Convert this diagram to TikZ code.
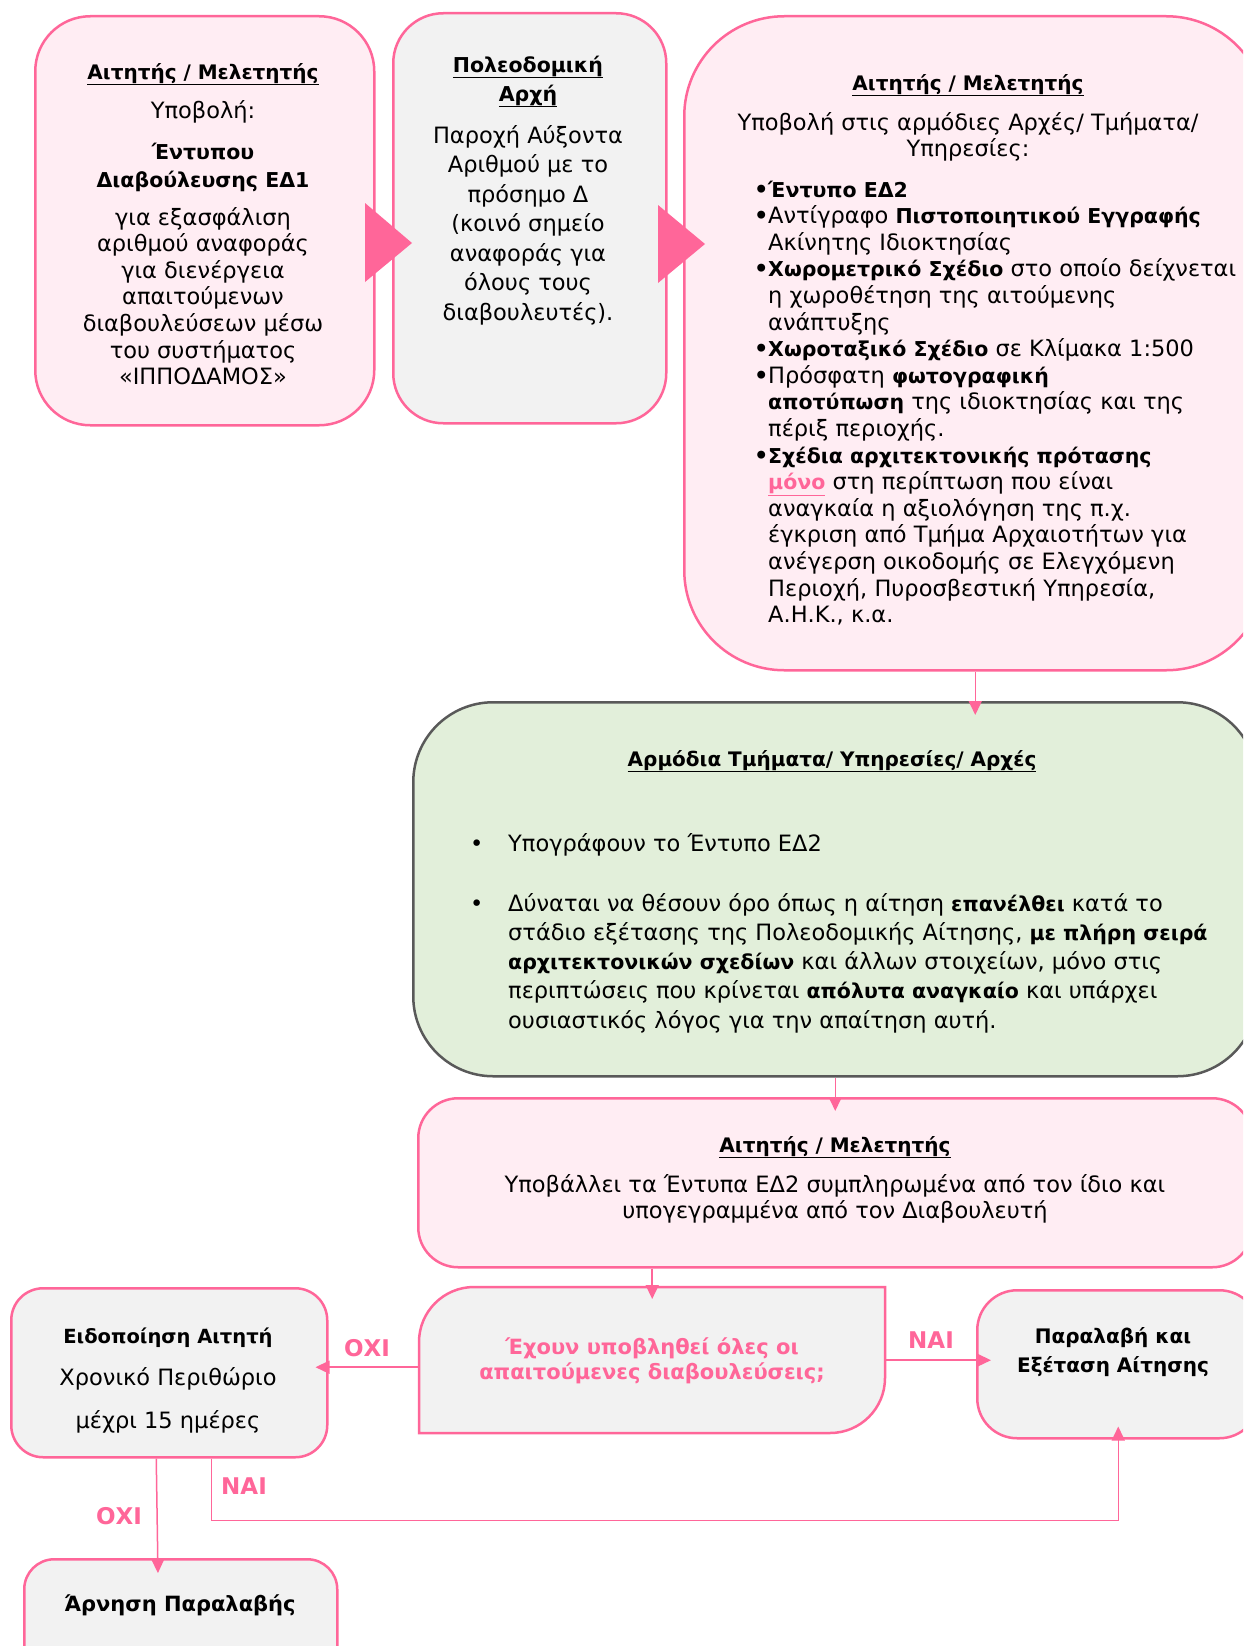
\documentclass[tikz,border=0pt]{standalone}
\usepackage{fontspec}
\setmainfont{DejaVu Sans}
\usetikzlibrary{arrows.meta,calc}
\definecolor{pinkline}{RGB}{255,102,153}
\definecolor{pinkfill}{RGB}{255,237,243}
\definecolor{greyfill}{RGB}{242,242,242}
\definecolor{greenfill}{RGB}{226,239,218}
\definecolor{greenline}{RGB}{89,89,89}
\tikzset{
  pinkbox/.style={draw=pinkline, fill=pinkfill, line width=2.5pt, inner sep=0pt, anchor=north west},
  greybox/.style={draw=pinkline, fill=greyfill, line width=2.5pt, inner sep=0pt, anchor=north west},
  greenbox/.style={draw=greenline, fill=greenfill, line width=2.5pt, inner sep=0pt, anchor=north west},
  conn/.style={draw=pinkline, line width=1.5pt, -{Triangle[length=14pt,width=13pt]}},
  lbl/.style={text=pinkline, font=\fontsize{23}{27}\selectfont\bfseries, inner sep=0pt},
  txt/.style={inner sep=0pt, align=center, anchor=base, font=\fontsize{22.5}{26.6}\selectfont},
  ttl/.style={inner sep=0pt, align=center, anchor=base, font=\fontsize{20}{26.6}\selectfont\bfseries},
  txtl/.style={inner sep=0pt, align=left, anchor=base west, font=\fontsize{22.5}{26.6}\selectfont},
}
\newcommand{\B}[1]{{\fontsize{20.5}{26.6}\selectfont\bfseries #1}}
\newcommand{\bul}{\makebox[14pt][l]{\bfseries •}}
\newcommand{\gbul}{\makebox[38pt][l]{•}}
\newcommand{\ind}{\hspace*{14pt}}
\begin{document}
\begin{tikzpicture}[x=1pt,y=-1pt]
\clip (0,0) rectangle (1243,1646);
\fill[white] (0,0) rectangle (1243,1646);
% boxes
\node[pinkbox, rounded corners=55pt, minimum width=339pt, minimum height=409pt] (b1) at (34,15) {};
\node[greybox, rounded corners=50pt, minimum width=273pt, minimum height=410pt] (b2) at (392,12) {};
\node[pinkbox, rounded corners=100pt, minimum width=582pt, minimum height=654pt] (b3) at (683,15) {};
\node[greenbox, rounded corners=80pt, minimum width=844pt, minimum height=374pt] (gr) at (412,701) {};
\node[pinkbox, rounded corners=40pt, minimum width=834pt, minimum height=169pt] (b4) at (417,1097) {};
\node[greybox, rounded corners=32pt, minimum width=316pt, minimum height=169pt] (lb) at (10,1287) {};
\node[greybox, rounded corners=40pt, minimum width=282pt, minimum height=148pt] (rb) at (976,1289) {};
\node[greybox, rounded corners=30pt, minimum width=313pt, minimum height=122pt] (bb) at (23,1558) {};
% decision shape
\filldraw[draw=pinkline, fill=greyfill, line width=2.5pt]
  (419,1433) -- (419,1342) .. controls (419,1311.6) and (443.6,1287) .. (474,1287)
  -- (885,1287) -- (885,1378) .. controls (885,1408.4) and (860.4,1433) .. (830,1433) -- cycle;
\node[inner sep=0pt, minimum width=466pt, minimum height=146pt, anchor=north west] (dec) at (419,1287) {};
% big arrows between top boxes
\fill[pinkline] (365,203) -- (412,243) -- (365,282) -- cycle;
\fill[pinkline] (658,205) -- (705,244) -- (658,283) -- cycle;
% box 1 text (multi-line nodes are anchored at their last baseline)
\node[ttl] (t1a) at (203,79) {\underline{Αιτητής / Μελετητής}};
\node[txt] (t1b) at (203,118) {Υποβολή:};
\node[txt, font=\fontsize{20.5}{28}\selectfont\bfseries] (t1c) at (203,187) {Έντυπου\\Διαβούλευσης ΕΔ1};
\node[txt] (t1d) at (203,384.6) {για εξασφάλιση\\αριθμού αναφοράς\\για διενέργεια\\απαιτούμενων\\διαβουλεύσεων μέσω\\του συστήματος\\«ΙΠΠΟΔΑΜΟΣ»};
% box 2 text
\node[txt, font=\fontsize{20.5}{29}\selectfont\bfseries] (t2a) at (528,101) {\underline{Πολεοδομική}\\\underline{Αρχή}};
\node[txt, font=\fontsize{22.5}{29.5}\selectfont] (t2b) at (528,320) {Παροχή Αύξοντα\\Αριθμού με το\\πρόσημο Δ\\(κοινό σημείο\\αναφοράς για\\όλους τους\\διαβουλευτές).};
% box 3 text
\node[ttl] (t3a) at (968,90) {\underline{Αιτητής / Μελετητής}};
\node[txt, font=\fontsize{22.5}{26}\selectfont] (t3b) at (968,156) {Υποβολή στις αρμόδιες Αρχές/ Τμήματα/\\Υπηρεσίες:};
\node[txtl] (t3c) at (754,622.6) {%
\bul\B{Έντυπο ΕΔ2}\\
\bul Αντίγραφο \B{Πιστοποιητικού Εγγραφής}\\
\ind Ακίνητης Ιδιοκτησίας\\
\bul\B{Χωρομετρικό Σχέδιο} στο οποίο δείχνεται\\
\ind η χωροθέτηση της αιτούμενης\\
\ind ανάπτυξης\\
\bul\B{Χωροταξικό Σχέδιο} σε Κλίμακα 1:500\\
\bul Πρόσφατη \B{φωτογραφική}\\
\ind\B{αποτύπωση} της ιδιοκτησίας και της\\
\ind πέριξ περιοχής.\\
\bul\B{Σχέδια αρχιτεκτονικής πρότασης}\\
\ind\textcolor{pinkline}{\B{\underline{μόνο}}} στη περίπτωση που είναι\\
\ind αναγκαία η αξιολόγηση της π.χ.\\
\ind έγκριση από Τμήμα Αρχαιοτήτων για\\
\ind ανέγερση οικοδομής σε Ελεγχόμενη\\
\ind Περιοχή, Πυροσβεστική Υπηρεσία,\\
\ind Α.Η.Κ., κ.α.};
% green text
\node[ttl] (tga) at (832,766) {\underline{Αρμόδια Τμήματα/ Υπηρεσίες/ Αρχές}};
\node[txtl] (tgb) at (470,851) {\gbul Υπογράφουν το Έντυπο ΕΔ2};
\node[txtl, font=\fontsize{22.5}{29.3}\selectfont] (tgc) at (470,1028.2) {%
\gbul Δύναται να θέσουν όρο όπως η αίτηση \B{επανέλθει} κατά το\\
\hspace*{38pt}στάδιο εξέτασης της Πολεοδομικής Αίτησης, \B{με πλήρη σειρά}\\
\hspace*{38pt}\B{αρχιτεκτονικών σχεδίων} και άλλων στοιχείων, μόνο στις\\
\hspace*{38pt}περιπτώσεις που κρίνεται \B{απόλυτα αναγκαίο} και υπάρχει\\
\hspace*{38pt}ουσιαστικός λόγος για την απαίτηση αυτή.};
% box 4 text
\node[ttl] (t4a) at (835,1152) {\underline{Αιτητής / Μελετητής}};
\node[txt, font=\fontsize{22.5}{26}\selectfont] (t4b) at (835,1218) {Υποβάλλει τα Έντυπα ΕΔ2 συμπληρωμένα από τον ίδιο και\\υπογεγραμμένα από τον Διαβουλευτή};
% decision text
\node[txt, text=pinkline, font=\fontsize{21}{25}\selectfont\bfseries] (tdec) at (652,1379) {Έχουν υποβληθεί όλες οι\\απαιτούμενες διαβουλεύσεις;};
% left box text
\node[txt, font=\fontsize{19.5}{26}\selectfont\bfseries] (tla) at (168,1343) {Ειδοποίηση Αιτητή};
\node[txt] (tlb) at (168,1385) {Χρονικό Περιθώριο};
\node[txt] (tlc) at (168,1428) {μέχρι 15 ημέρες};
% right box text
\node[txt, font=\fontsize{20}{29}\selectfont\bfseries] (tra) at (1113,1372) {Παραλαβή και\\Εξέταση Αίτησης};
% bottom box text
\node[txt, font=\fontsize{21}{26}\selectfont\bfseries] (tba) at (180,1611) {Άρνηση Παραλαβής};
% connectors
\draw[conn, shorten >=-14pt] (b3.south) -- (b3.south |- gr.north);
\draw[conn, shorten >=-14pt] (gr.south) -- (gr.south |- b4.north);
\draw[conn, shorten >=-12pt] (b4.south -| dec.north) -- (dec.north);
\draw[conn, shorten >=-13pt] ([yshift=-7pt]dec.west) -- ([yshift=-7pt]dec.west -| lb.east);
\draw[conn, shorten >=-15pt] (dec.east) -- (dec.east -| rb.west);
\draw[conn, shorten >=-15pt] ([xshift=-13pt]lb.south) -- ([xshift=-23pt]bb.north);
\draw[conn, shorten >=-13pt] ([xshift=42pt]lb.south) -- ++(0,62) -| (rb.south);
% labels
\node[lbl] (l1) at (367,1348) {ΟΧΙ};
\node[lbl] (l2) at (931,1340) {ΝΑΙ};
\node[lbl] (l3) at (244,1486) {ΝΑΙ};
\node[lbl] (l4) at (119,1516) {ΟΧΙ};
\end{tikzpicture}
\end{document}
